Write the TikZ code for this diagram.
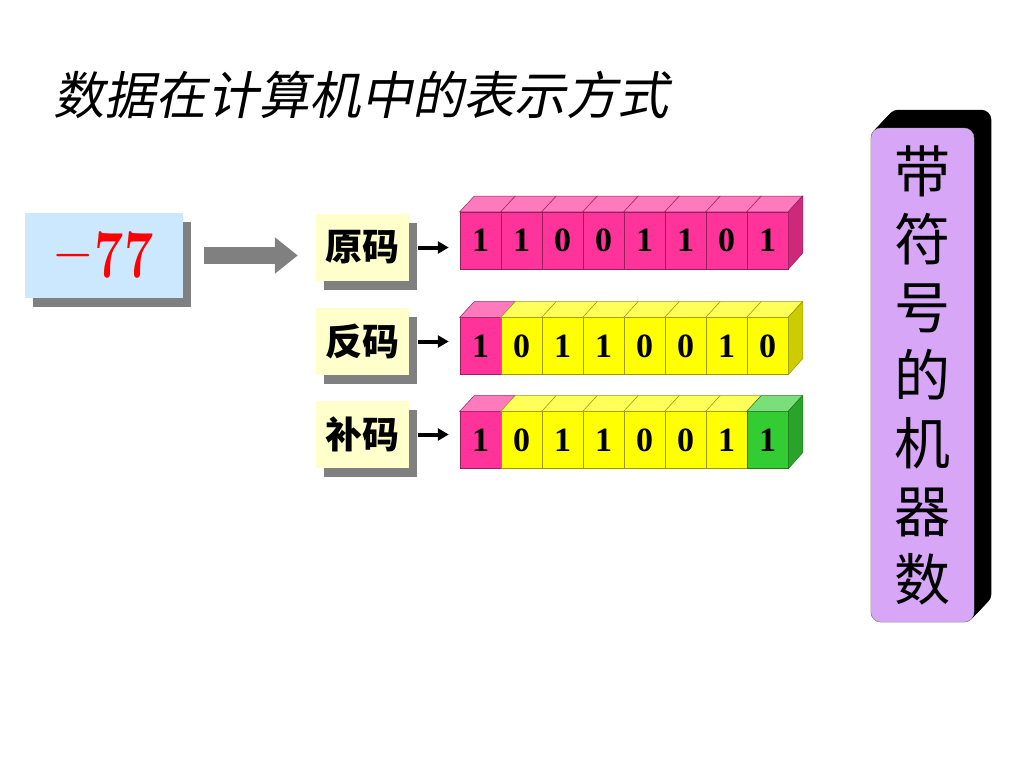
\documentclass[tikz,border=0pt]{standalone}
\usepackage{fontspec}
\usepackage{graphicx}
\setmainfont{Liberation Serif}
\newfontfamily\lmr{Latin Modern Roman}
\newfontfamily\cjk{Noto Sans CJK SC}
\newfontfamily\cjkslant[FakeSlant=0.2]{Noto Sans CJK SC}
\usetikzlibrary{arrows.meta,shadows,backgrounds}
\definecolor{pk}{HTML}{FF3399}
\definecolor{yl}{HTML}{FFFF00}
\definecolor{gn}{HTML}{33CC33}
\definecolor{numblue}{HTML}{CCE8FF}
\definecolor{lblyellow}{HTML}{FFFFCC}
\definecolor{shadowgray}{HTML}{808080}
\definecolor{lilac}{HTML}{D7A6F7}
\begin{document}
\begin{tikzpicture}[x=1pt,y=-1pt,
  shad/.style={drop shadow={shadow xshift=8pt,shadow yshift=-9pt,fill=shadowgray,opacity=1}},
  numbox/.style={fill=numblue,minimum width=158pt,minimum height=85pt,inner sep=0pt,shad},
  lbl/.style={fill=lblyellow,minimum width=93pt,minimum height=67pt,inner sep=0pt,shad,
    font=\cjk\bfseries\fontsize{37}{37}\selectfont},
  bit/.style={draw=#1!60!black,fill=#1,line width=0.5pt,minimum width=41pt,minimum height=57pt,
    inner sep=0pt,font=\bfseries\fontsize{34}{34}\selectfont},
  topface/.style={draw=#1!60!black,fill=#1!65!white,line width=0.5pt},
  sideface/.style={draw=#1!60!black,fill=#1!80!black,line width=0.5pt},
  bigarrow/.style={draw=shadowgray,line width=17pt,-{Triangle[length=23pt,width=35pt]}},
  ptr/.style={draw=black,line width=4pt,-{Triangle[length=11pt,width=12pt]}},
  vbox/.style={fill=lilac,draw=gray!70,rounded corners=10pt,minimum width=103pt,minimum height=494pt,
    inner sep=0pt,align=center,font=\cjk\fontsize{56}{68}\selectfont}]
 \useasboundingbox (0,0) rectangle (1024,768);
 % title
 \node[anchor=base west,inner sep=0pt,font=\cjkslant\fontsize{51.3}{51.3}\selectfont] (title) at (53,114) {数据在计算机中的表示方式};
 % the number and its three codes
 \node[numbox,text=red] (num) at (104,255.5) {\raisebox{-4pt}{\scalebox{1}[1.3]{\lmr\fontsize{52}{52}\selectfont\raisebox{4pt}{−}\kern3pt\textbf{77}}}};
 \node[lbl] (yuan) at (362.5,247.5) {原码};
 \node[lbl] (fan) at (362.5,341.5) {反码};
 \node[lbl] (bu) at (362.5,434.5) {补码};
 \draw[bigarrow] ([xshift=21pt]num.east) -- ([xshift=-18pt]num.east -| yuan.west);
 %
 \foreach \i/\b/\c in {0/1/pk,1/1/pk,2/0/pk,3/0/pk,4/1/pk,5/1/pk,6/0/pk,7/1/pk}{
  \node[bit=\c] (yc\i) at (480.5+41*\i,240.5) {\b};
  \filldraw[topface=\c] (yc\i.north west) -- ++(14.5,-15.7) -- ++(41,0) -- (yc\i.north east) -- cycle;}
 \filldraw[sideface=pk] (yc7.north east) -- ++(14.5,-15.7) -- ++(0,57) -- (yc7.south east) -- cycle;
 %
 \foreach \i/\b/\c in {0/1/pk,1/0/yl,2/1/yl,3/1/yl,4/0/yl,5/0/yl,6/1/yl,7/0/yl}{
  \node[bit=\c] (fc\i) at (480.5+41*\i,346) {\b};
  \filldraw[topface=\c] (fc\i.north west) -- ++(14.5,-15.7) -- ++(41,0) -- (fc\i.north east) -- cycle;}
 \filldraw[sideface=yl] (fc7.north east) -- ++(14.5,-15.7) -- ++(0,57) -- (fc7.south east) -- cycle;
 %
 \foreach \i/\b/\c in {0/1/pk,1/0/yl,2/1/yl,3/1/yl,4/0/yl,5/0/yl,6/1/yl,7/1/gn}{
  \node[bit=\c] (bc\i) at (480.5+41*\i,440) {\b};
  \filldraw[topface=\c] (bc\i.north west) -- ++(14.5,-15.7) -- ++(41,0) -- (bc\i.north east) -- cycle;}
 \filldraw[sideface=gn] (bc7.north east) -- ++(14.5,-15.7) -- ++(0,57) -- (bc7.south east) -- cycle;
 %
 \draw[ptr] ([xshift=9pt]yuan.east) -- ([xshift=-11pt]yuan.east -| yc0.west);
 \draw[ptr] ([xshift=9pt]fan.east) -- ([xshift=-11pt]fan.east -| fc0.west);
 \draw[ptr] ([xshift=9pt]bu.east) -- ([xshift=-11pt]bu.east -| bc0.west);
 % signed machine numbers
 \node[vbox] (fuhao) at (922.5,375) {带\\符\\号\\的\\机\\器\\数};
 \begin{scope}[on background layer]
  \foreach \t in {0,1,...,18}
   \fill[black,rounded corners=10pt] ([shift={(0.95*\t,-\t)}]fuhao.south west) rectangle ([shift={(0.95*\t,-\t)}]fuhao.north east);
 \end{scope}
\end{tikzpicture}
\end{document}
